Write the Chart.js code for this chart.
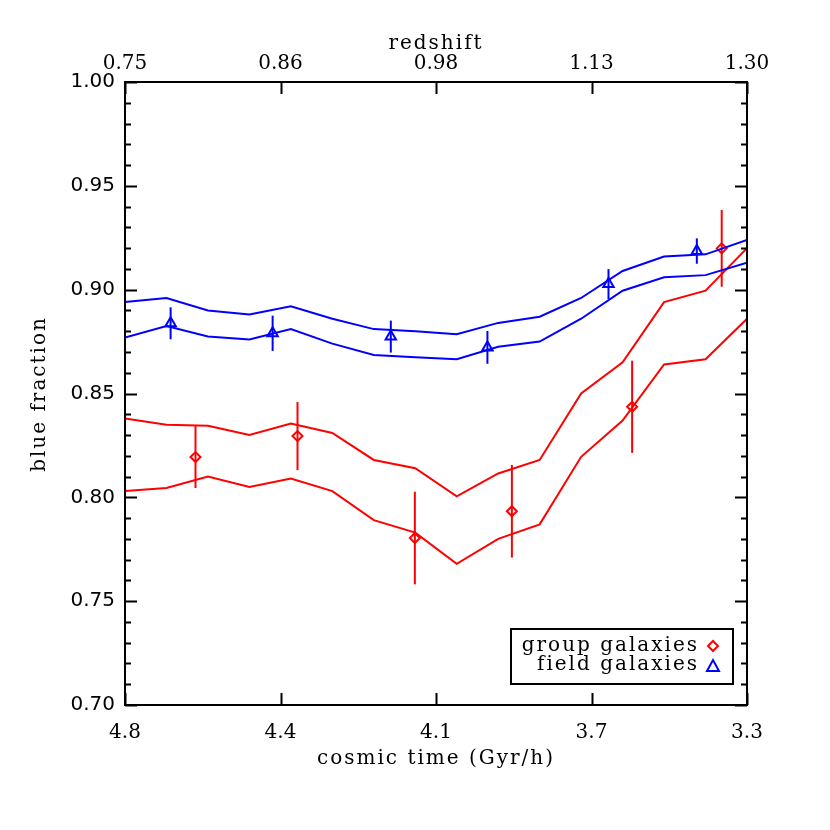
<!DOCTYPE html>
<html lang="en">
<head>
    <meta charset="UTF-8">
    <title>Blue fraction vs cosmic time</title>
    <script src="https://cdn.jsdelivr.net/npm/chart.js"></script>
    <style>
        body { margin: 0; background: #fff; }
        #chart { display: block; }
    </style>
</head>
<body>
    <canvas id="chart" width="830" height="830"></canvas>

    <script>
    // grid of the model bands (cosmic time, Gyr/h)
    const times = [4.8, 4.7, 4.6, 4.5, 4.4, 4.3, 4.2, 4.1, 4.0, 3.9, 3.8, 3.7, 3.6, 3.5, 3.4, 3.3];
    const blueUpper = [0.894, 0.896, 0.890, 0.888, 0.892, 0.886, 0.881, 0.880, 0.8785, 0.884, 0.887, 0.896, 0.909, 0.916, 0.917, 0.924];
    const blueLower = [0.877, 0.8825, 0.8775, 0.876, 0.881, 0.874, 0.8685, 0.8675, 0.8665, 0.8725, 0.875, 0.886, 0.8995, 0.906, 0.907, 0.913];
    const redUpper = [0.838, 0.835, 0.8345, 0.830, 0.8355, 0.831, 0.818, 0.814, 0.8005, 0.8115, 0.818, 0.850, 0.865, 0.894, 0.8995, 0.920];
    const redLower = [0.803, 0.8045, 0.810, 0.805, 0.809, 0.803, 0.789, 0.783, 0.768, 0.780, 0.787, 0.8195, 0.837, 0.864, 0.8665, 0.886];

    // measured points
    const groupTime = [4.630, 4.384, 4.101, 3.867, 3.577, 3.361];
    const groupFrac = [0.8194, 0.8295, 0.7804, 0.7933, 0.8436, 0.9199];
    const groupErr = [0.0149, 0.0164, 0.0223, 0.0223, 0.0222, 0.0185];
    const fieldTime = [4.690, 4.444, 4.159, 3.926, 3.634, 3.421];
    const fieldFrac = [0.8838, 0.8790, 0.8774, 0.8722, 0.9027, 0.9186];
    const fieldErr = [0.0077, 0.0085, 0.0077, 0.0079, 0.0072, 0.0061];

    // axes
    const xTickVals = [4.8, 4.425, 4.05, 3.675, 3.3];
    const xTickLabels = ['4.8', '4.4', '4.1', '3.7', '3.3'];
    const zTickLabels = ['0.75', '0.86', '0.98', '1.13', '1.30'];
    const legendLabels = ['group galaxies', 'field galaxies'];

    const RED = '#ff0000';
    const BLUE = '#0000ff';
    const SERIF = '"DejaVu Serif", serif';

    const pts = (xs, ys) => xs.map((x, i) => ({ x: x, y: ys[i] }));
    const band = (ys, color) => ({
        data: pts(times, ys), showLine: true, borderColor: color, borderWidth: 2,
        pointRadius: 0, fill: false, tension: 0
    });

    // error bars, frame, inward ticks, titles, legend
    const decor = {
        id: 'decor',
        beforeDraw(chart) {
            const ctx = chart.ctx;
            ctx.save();
            ctx.fillStyle = '#fff';
            ctx.fillRect(0, 0, chart.width, chart.height);
            ctx.restore();
        },
        beforeDatasetsDraw(chart) {
            const ctx = chart.ctx, xs = chart.scales.x, ys = chart.scales.y;
            ctx.save();
            ctx.lineWidth = 2;
            [[groupTime, groupFrac, groupErr, RED], [fieldTime, fieldFrac, fieldErr, BLUE]].forEach(([t, f, e, c]) => {
                ctx.strokeStyle = c;
                t.forEach((tv, i) => {
                    const px = xs.getPixelForValue(tv);
                    ctx.beginPath();
                    ctx.moveTo(px, ys.getPixelForValue(f[i] - e[i]));
                    ctx.lineTo(px, ys.getPixelForValue(f[i] + e[i]));
                    ctx.stroke();
                });
            });
            ctx.restore();
        },
        afterDraw(chart) {
            const ctx = chart.ctx, a = chart.chartArea, xs = chart.scales.x, ys = chart.scales.y;
            ctx.save();
            ctx.strokeStyle = '#000';
            ctx.lineWidth = 2;
            ctx.strokeRect(a.left, a.top, a.right - a.left, a.bottom - a.top);

            ctx.beginPath();
            for (let k = 0; k <= 30; k++) {
                const py = Math.round(ys.getPixelForValue(0.70 + k * 0.01)) + 0.5;
                const len = k % 5 === 0 ? 12 : 6;
                ctx.moveTo(a.left, py); ctx.lineTo(a.left + len, py);
                ctx.moveTo(a.right, py); ctx.lineTo(a.right - len, py);
            }
            xTickVals.forEach(v => {
                const px = Math.round(xs.getPixelForValue(v)) + 0.5;
                ctx.moveTo(px, a.bottom); ctx.lineTo(px, a.bottom - 12);
                ctx.moveTo(px, a.top); ctx.lineTo(px, a.top + 12);
            });
            ctx.stroke();

            // axis titles
            ctx.fillStyle = '#000';
            ctx.font = '20px ' + SERIF;
            ctx.letterSpacing = '2px';
            ctx.textAlign = 'center';
            ctx.textBaseline = 'middle';
            const cx = (a.left + a.right) / 2;
            ctx.fillText('redshift', cx, 44);
            ctx.fillText('cosmic time (Gyr/h)', cx, 759);
            ctx.save();
            ctx.translate(40, 394);
            ctx.rotate(-Math.PI / 2);
            ctx.fillText('blue fraction', 0, 0);
            ctx.restore();

            // legend
            const bx1 = a.right - 14, by1 = a.bottom - 21;
            const bx0 = bx1 - 222, by0 = by1 - 55;
            ctx.lineWidth = 2;
            ctx.strokeRect(bx0, by0, bx1 - bx0, by1 - by0);
            ctx.textAlign = 'right';
            const rows = [by0 + 17, by0 + 36];
            ctx.fillText(legendLabels[0], bx1 - 34, rows[0]);
            ctx.fillText(legendLabels[1], bx1 - 34, rows[1]);

            // legend symbols, hollow like the data markers
            const mx = bx1 - 20;
            ctx.strokeStyle = RED;
            ctx.beginPath();
            ctx.moveTo(mx - 5, rows[0]);
            ctx.lineTo(mx, rows[0] - 5);
            ctx.lineTo(mx + 5, rows[0]);
            ctx.lineTo(mx, rows[0] + 5);
            ctx.closePath();
            ctx.stroke();
            ctx.strokeStyle = BLUE;
            const ty = rows[1] + 1;
            ctx.beginPath();
            ctx.moveTo(mx - 6, ty + 5);
            ctx.lineTo(mx, ty - 6);
            ctx.lineTo(mx + 6, ty + 5);
            ctx.closePath();
            ctx.stroke();
            ctx.restore();
        }
    };

    new Chart(document.getElementById('chart'), {
        type: 'scatter',
        data: {
            datasets: [
                band(blueUpper, BLUE),
                band(blueLower, BLUE),
                band(redUpper, RED),
                band(redLower, RED),
                {
                    data: pts(groupTime, groupFrac), pointStyle: 'rectRot', pointRadius: 5,
                    borderColor: RED, backgroundColor: 'rgba(0,0,0,0)', borderWidth: 2
                },
                {
                    data: pts(fieldTime, fieldFrac), pointStyle: 'triangle', pointRadius: 6,
                    borderColor: BLUE, backgroundColor: 'rgba(0,0,0,0)', borderWidth: 2
                }
            ]
        },
        options: {
            responsive: false,
            animation: false,
            layout: { padding: { left: 0, right: 83, top: 0, bottom: 0 } },
            plugins: { legend: { display: false }, tooltip: { enabled: false } },
            scales: {
                x: {
                    type: 'linear', position: 'bottom', reverse: true, min: 3.3, max: 4.8,
                    grid: { display: false, drawTicks: false }, border: { display: false },
                    afterBuildTicks: s => { s.ticks = xTickVals.map(v => ({ value: v })); },
                    afterFit: s => { s.height = 125; },
                    ticks: {
                        autoSkip: false, maxRotation: 0, padding: 16, color: '#000',
                        font: { family: SERIF, size: 20 },
                        callback: (v, i) => xTickLabels[i]
                    }
                },
                x2: {
                    type: 'linear', position: 'top', reverse: true, min: 3.3, max: 4.8,
                    grid: { display: false, drawTicks: false }, border: { display: false },
                    afterBuildTicks: s => { s.ticks = xTickVals.map(v => ({ value: v })); },
                    afterFit: s => { s.height = 82; },
                    ticks: {
                        autoSkip: false, maxRotation: 0, padding: 6, color: '#000',
                        font: { family: SERIF, size: 20 },
                        callback: (v, i) => zTickLabels[i]
                    }
                },
                y: {
                    type: 'linear', min: 0.70, max: 1.00,
                    grid: { display: false, drawTicks: false }, border: { display: false },
                    afterFit: s => { s.width = 125; },
                    ticks: {
                        stepSize: 0.05, padding: 10, color: '#000',
                        font: { family: '"DejaVu Sans", sans-serif', size: 20 },
                        callback: v => v.toFixed(2)
                    }
                }
            }
        },
        plugins: [decor]
    });
    </script>
</body>
</html>
